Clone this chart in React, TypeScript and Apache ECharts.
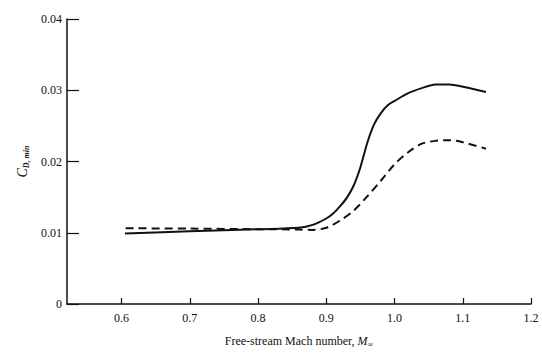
import React, { useEffect, useRef } from "react";
import * as echarts from "echarts";

const solidX = [0.605, 0.7, 0.8, 0.86, 0.88, 0.9, 0.91, 0.92, 0.93, 0.94, 0.95, 0.96, 0.97, 0.98, 0.99, 1.0, 1.02, 1.04, 1.06, 1.08, 1.1, 1.134];
const solidY = [0.0099, 0.0102, 0.0105, 0.0107, 0.0111, 0.012, 0.0127, 0.0137, 0.0149, 0.0166, 0.0192, 0.0226, 0.0252, 0.0268, 0.0279, 0.0285, 0.0296, 0.0303, 0.0308, 0.0308, 0.0305, 0.02975];
const dashX = [0.606, 0.7, 0.8, 0.86, 0.88, 0.9, 0.92, 0.94, 0.96, 0.98, 1.0, 1.02, 1.04, 1.06, 1.08, 1.1, 1.134];
const dashY = [0.01063, 0.01058, 0.0105, 0.01045, 0.0104, 0.0107, 0.0117, 0.0131, 0.0151, 0.0173, 0.0196, 0.0213, 0.0225, 0.0229, 0.023, 0.0227, 0.0218];
const xTicks = [0.6, 0.7, 0.8, 0.9, 1.0, 1.1, 1.2];

const FONT = "Liberation Serif";

export default function App() {
  const ref = useRef<HTMLDivElement>(null);
  useEffect(() => {
    const chart = echarts.init(ref.current!, null, { renderer: "svg" });
    chart.setOption({
      animation: false,
      backgroundColor: "#fff",
      grid: { left: 67, right: 11, top: 19, bottom: 48 },
      xAxis: {
        type: "value",
        min: 0.52,
        max: 1.2,
        name: "Free-stream Mach number, {it|M}{sub|∞}",
        nameLocation: "middle",
        nameGap: 30,
        nameTextStyle: {
          fontFamily: FONT, fontSize: 12, color: "#111",
          rich: {
            it: { fontFamily: FONT, fontSize: 12, fontStyle: "italic", color: "#111" },
            sub: { fontFamily: FONT, fontSize: 8, verticalAlign: "bottom", padding: [6, 0, 0, 0], color: "#111" },
          },
        },
        splitLine: { show: false },
        axisLine: { lineStyle: { color: "#111", width: 1.5 } },
        axisTick: { inside: true, length: 6, customValues: xTicks, lineStyle: { color: "#111", width: 1.2 } },
        axisLabel: {
          customValues: xTicks,
          formatter: (v: number) => v.toFixed(1),
          fontFamily: FONT, fontSize: 12, color: "#111", margin: 8,
        },
      },
      yAxis: {
        type: "value",
        min: 0,
        max: 0.04,
        interval: 0.01,
        name: "{c|C}{sub|D, min}",
        nameLocation: "middle",
        nameGap: 26,
        nameRotate: 90,
        nameTextStyle: {
          rich: {
            c: { fontFamily: FONT, fontSize: 14, fontStyle: "italic", color: "#111" },
            sub: { fontFamily: FONT, fontSize: 8, fontStyle: "italic", fontWeight: "bold", color: "#111", padding: [7, 0, 0, 0] },
          },
        },
        splitLine: { show: false },
        axisLine: { show: true, lineStyle: { color: "#111", width: 1.5 } },
        axisTick: { inside: true, length: 12, lineStyle: { color: "#111", width: 1.2 } },
        axisLabel: {
          formatter: (v: number) => (v === 0 ? "0" : v.toFixed(2)),
          fontFamily: FONT, fontSize: 12, color: "#111", margin: 5,
        },
      },
      series: [
        {
          type: "line",
          data: solidX.map((x, i) => [x, solidY[i]]),
          smooth: 0.3,
          showSymbol: false,
          lineStyle: { color: "#111", width: 2 },
        },
        {
          type: "line",
          data: dashX.map((x, i) => [x, dashY[i]]),
          smooth: 0.3,
          showSymbol: false,
          lineStyle: { color: "#111", width: 2, type: [8, 5] },
        },
      ],
    });
    return () => chart.dispose();
  }, []);
  return <div ref={ref} style={{ width: 542, height: 353, position: "absolute", left: 0, top: 0 }} />;
}
